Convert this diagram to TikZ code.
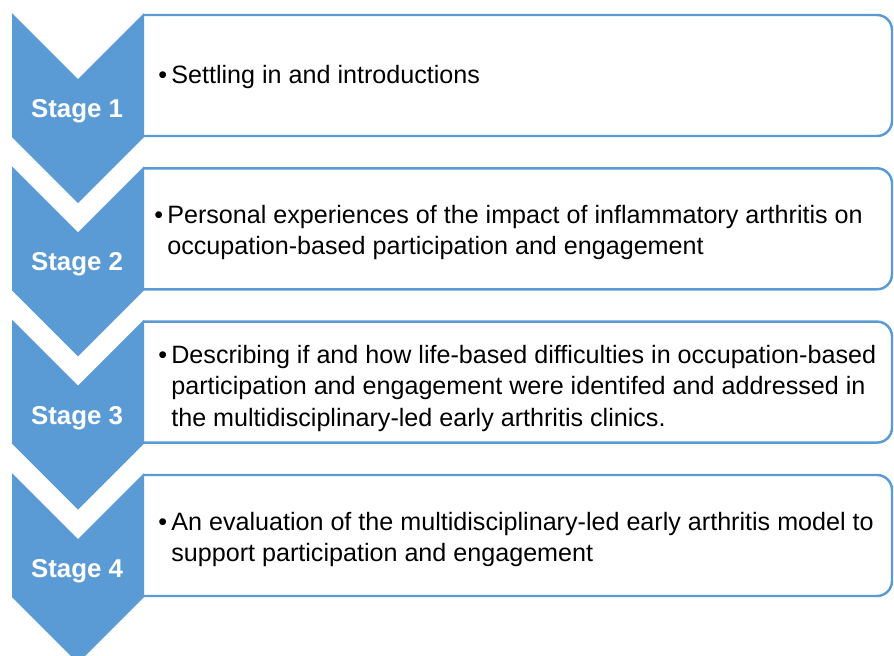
\documentclass[tikz,border=0pt]{standalone}
\usepackage{fontspec}
\setmainfont{Liberation Sans}
\definecolor{stageblue}{RGB}{91,155,213}
\tikzset{
    chevron/.style={fill=stageblue,draw=none},
    stepframe/.style={draw=stageblue,line width=1.4pt,fill=white,rounded corners=0.3cm},
    stagelabel/.style={anchor=base,inner sep=0pt,text=white,font=\fontsize{14.7}{17}\selectfont\bfseries},
    itemtext/.style={anchor=base west,inner sep=0pt,font=\fontsize{14.3}{18.1}\selectfont}
}
\newcommand{\itembullet}{\makebox[0.26cm][l]{\textbullet}}

\begin{document}
\begin{tikzpicture}[x=0.02cm,y=-0.02cm]
    \useasboundingbox (0,0) rectangle (894,656);

    \draw[stepframe] (144,136) -| (892,15) -- (144,15);
    \draw[stepframe] (144,289.3) -| (892,168.3) -- (144,168.3);
    \draw[stepframe] (144,442.6) -| (892,321.6) -- (144,321.6);
    \draw[stepframe] (144,596) -| (892,475) -- (144,475);

    \fill[chevron] (12,13) -- (78,79) -- (144,13) -- (144,137) -- (78,203) -- (12,137) -- cycle;
    \fill[chevron] (12,166.3) -- (78,232.3) -- (144,166.3) -- (144,290.3) -- (78,356.3) -- (12,290.3) -- cycle;
    \fill[chevron] (12,319.6) -- (78,385.6) -- (144,319.6) -- (144,443.6) -- (78,509.6) -- (12,443.6) -- cycle;
    \fill[chevron] (12,473) -- (78,539) -- (144,473) -- (144,597) -- (78,663) -- (12,597) -- cycle;

    \node[stagelabel] (stage1) at (77,117) {Stage 1};
    \node[stagelabel] (stage2) at (77,270) {Stage 2};
    \node[stagelabel] (stage3) at (77,424) {Stage 3};
    \node[stagelabel] (stage4) at (77,577) {Stage 4};

    \node[itemtext] (item1) at (158,83) {\begin{tabular}[t]{@{}l@{}l@{}}
        \itembullet & Settling in and introductions
    \end{tabular}};
    \node[itemtext] (item2) at (154,223) {\begin{tabular}[t]{@{}l@{}l@{}}
        \itembullet & Personal experiences of the impact of inflammatory arthritis on\\
                    & occupation-based participation and engagement
    \end{tabular}};
    \node[itemtext] (item3) at (158,363) {\begin{tabular}[t]{@{}l@{}l@{}}
        \itembullet & Describing if and how life-based difficulties in occupation-based\\
                    & participation and engagement were identifed and addressed in\\
                    & the multidisciplinary-led early arthritis clinics.
    \end{tabular}};
    \node[itemtext] (item4) at (158,530) {\begin{tabular}[t]{@{}l@{}l@{}}
        \itembullet & An evaluation of the multidisciplinary-led early arthritis model to\\
                    & support participation and engagement
    \end{tabular}};
\end{tikzpicture}
\end{document}
